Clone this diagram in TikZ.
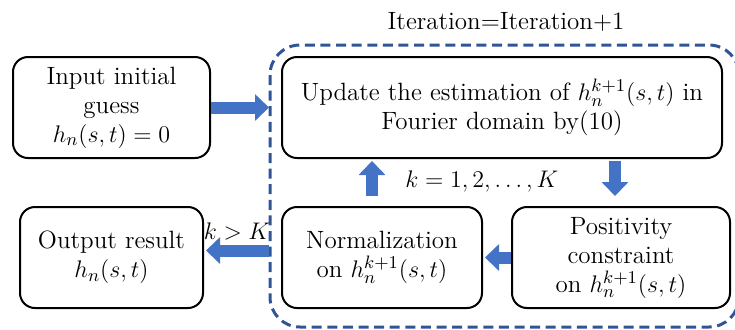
\documentclass[tikz,border=0pt]{standalone}
\usepackage{amsmath}
\usetikzlibrary{arrows.meta,positioning}
\definecolor{itblue}{RGB}{68,114,196}
\definecolor{itdarkblue}{RGB}{47,85,151}
\tikzstyle{stepbox} = [rectangle, rounded corners=7.5pt, draw=black, line width=1pt, align=center, inner sep=2pt, minimum height=50.5pt]
\tikzstyle{blockarrow} = [itblue, line width=6pt, -{Triangle[width=13pt,length=7pt]}]

\begin{document}
\begin{tikzpicture}[x=0.5pt, y=-0.5pt, font=\fontsize{12.5}{14.5}\selectfont]
\useasboundingbox (0,0) rectangle (735,329);

% Loop region
\draw[itdarkblue, line width=1.5pt, dash pattern=on 5pt off 2.8pt, rounded corners=15pt] (270,45) rectangle (739,327);
\node (iter) at (506,22) {Iteration=Iteration+1};

% Steps
\node (input) [stepbox, minimum width=98.5pt] at (111.5,107.5) {Input initial\\guess\\$h_n(s,t)=0$};
\node (update) [stepbox, minimum width=220pt] at (502,107.5) {Update the estimation of $h_n^{k+1}(s,t)$ in\\Fourier domain by(10)};
\node (output) [stepbox, minimum width=91.5pt] at (111.5,257.5) {Output result\\$h_n(s,t)$};
\node (norm) [stepbox, minimum width=100pt] at (382,257.5) {Normalization\\on $h_n^{k+1}(s,t)$};
\node (posit) [stepbox, minimum width=109pt] at (621,257.5) {Positivity\\constraint\\on $h_n^{k+1}(s,t)$};

% Labels
\node (loop) at (482,181) {$k=1,2,\ldots,K$};
\node (stop) at (237,231) {$k>K$};

% Connections
\draw[blockarrow, shorten >=6pt] (input) -- (update);
\draw[blockarrow, shorten <=1pt, shorten >=5pt] ([xshift=-3pt]posit.north |- update.south) -- ([xshift=-3pt]posit.north);
\draw[blockarrow, shorten >=1pt] (posit) -- (norm);
\draw[blockarrow, shorten <=5pt, shorten >=1pt] ([xshift=-5pt]norm.north) -- ([xshift=-5pt]norm.north |- update.south);
\draw[blockarrow, shorten <=6pt, shorten >=1pt] ([yshift=3.5pt]norm.west) -- ([yshift=3.5pt]output.east);
\end{tikzpicture}
\end{document}
